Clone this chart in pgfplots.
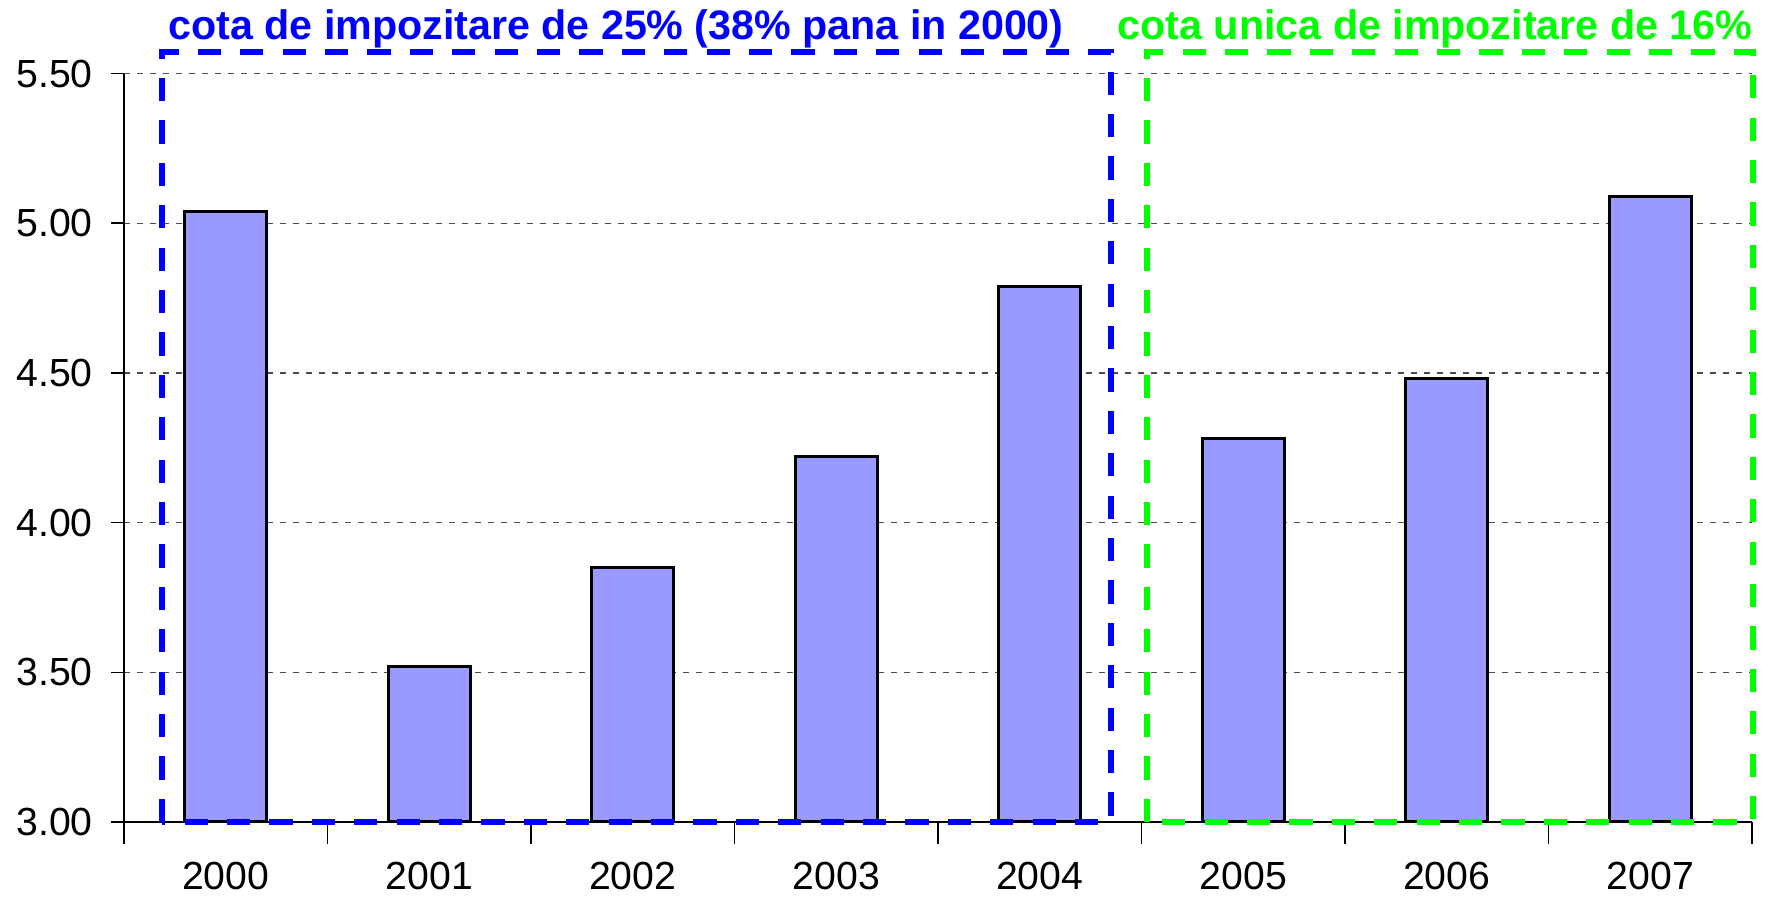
\documentclass[border=0pt]{standalone}
\usepackage{fontspec}
\setmainfont{Liberation Sans}
\usepackage{pgfplots}
\pgfplotsset{compat=1.18}
\definecolor{barfill}{HTML}{9999FF}
\definecolor{boxblue}{HTML}{0000FF}
\definecolor{boxgreen}{HTML}{00FF00}
\begin{document}
\begin{tikzpicture}
\begin{axis}[
  at={(0pt,0pt)}, anchor=south west,
  width=407pt, height=187.1pt, scale only axis,
  xmin=-0.5, xmax=7.5, ymin=3, ymax=5.5,
  axis lines*=left,
  axis line style={black, line width=0.4pt},
  tick align=outside,
  xtick={0,...,7},
  xticklabels={2000,2001,2002,2003,2004,2005,2006,2007},
  major x tick style={draw=none},
  minor xtick={-0.5,0.5,1.5,2.5,3.5,4.5,5.5,6.5,7.5},
  minor tick length=5.5pt,
  major tick length=3.3pt,
  minor x tick style={black, line width=0.4pt},
  ytick={3,3.5,4,4.5,5,5.5},
  yticklabel style={xshift=-1pt, /pgf/number format/fixed, /pgf/number format/fixed zerofill, /pgf/number format/precision=2},
  /pgf/number format/assume math mode=true,
  ticklabel style={font=\fontsize{9.8}{12}\selectfont},
  xticklabel style={yshift=-3.3pt},
  ymajorgrids,
  major grid style={black!70, line width=0.3pt, dash pattern=on 1.5pt off 1.75pt},
  y tick style={black, line width=0.4pt},
]
\addplot[ybar, bar width=20.5pt, fill=barfill, draw=black, line width=0.75pt]
  coordinates {(0,5.04) (1,3.52) (2,3.85) (3,4.22) (4,4.79) (5,4.28) (6,4.48) (7,5.09)};
\coordinate (b1) at (axis cs:-0.313,3);
\coordinate (b2) at (axis cs:4.35,5.572);
\coordinate (g1) at (axis cs:4.527,3);
\coordinate (g2) at (axis cs:7.505,5.572);
\coordinate (t1) at (axis cs:1.918,5.6135);
\coordinate (t2) at (axis cs:5.942,5.6135);
\end{axis}
\draw[boxblue, line width=1.3pt, dash pattern=on 5.8pt off 4.8pt] (b1) rectangle (b2);
\draw[boxgreen, line width=1.3pt, dash pattern=on 5.8pt off 4.8pt] (g1) rectangle (g2);
\node[text=boxblue, font=\bfseries\fontsize{10.3}{12}\selectfont, inner sep=0pt, anchor=base] at (t1) {cota de impozitare de 25\% (38\% pana in 2000)};
\node[text=boxgreen, font=\bfseries\fontsize{10.3}{12}\selectfont, inner sep=0pt, anchor=base] at (t2) {cota unica de impozitare de 16\%};
\pgfresetboundingbox
\useasboundingbox (-31pt,-19pt) rectangle (411.25pt,205.5pt);
\end{tikzpicture}
\end{document}
